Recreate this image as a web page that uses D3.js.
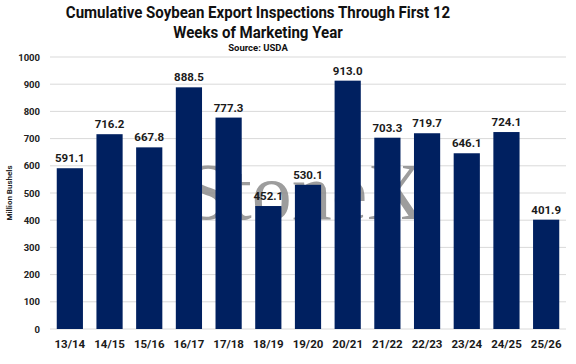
<!DOCTYPE html>
<html><head><meta charset="utf-8">
<script src="https://cdn.jsdelivr.net/npm/d3@7"></script>
<style>body{margin:0;background:#fff}svg{display:block}</style>
</head><body><svg id="c" width="576" height="364"></svg>
<script>
const categories = ["13/14","14/15","15/16","16/17","17/18","18/19","19/20","20/21","21/22","22/23","23/24","24/25","25/26"];
const values = [591.1,716.2,667.8,888.5,777.3,452.1,530.1,913.0,703.3,719.7,646.1,724.1,401.9];
const yTicks = [0,100,200,300,400,500,600,700,800,900,1000];
const titleLines = ["Cumulative Soybean Export Inspections Through First 12","Weeks of Marketing Year"];
const subtitle = "Source: USDA";
const yLabel = "Million Bushels";
const watermark = "StoneX";

const svg = d3.select("#c");
const m = {l:50, r:566, t:57, b:329};
const x = d3.scaleBand().domain(categories).range([m.l, m.r]).paddingInner(0.34).paddingOuter(0.17);
const y = d3.scaleLinear().domain([0,1000]).range([m.b, m.t]);

svg.append("rect").attr("width",576).attr("height",364).attr("fill","#fff");

// gridlines
svg.append("g").selectAll("line").data(yTicks).join("line")
  .attr("x1",m.l).attr("x2",m.r).attr("y1",d=>y(d)).attr("y2",d=>y(d))
  .attr("stroke","#d9d9d9").attr("stroke-width",1);

// y axis labels
const ya = svg.append("g").attr("transform",`translate(${m.l-10},0)`)
  .call(d3.axisLeft(y).tickValues(yTicks).tickFormat(d3.format("d")).tickSize(0).tickPadding(0));
ya.select(".domain").remove();
ya.selectAll("text").attr("font-family","Roboto, sans-serif").attr("font-weight","bold")
  .attr("font-size","9.5px").attr("fill","#222");

// watermark
svg.append("text").attr("x",305).attr("y",219).attr("text-anchor","middle")
  .attr("font-family","'Liberation Serif', serif").attr("font-size","80px")
  .attr("fill","#8c8c8c").attr("opacity",0.85).text(watermark);

// bars
svg.append("g").selectAll("rect").data(values).join("rect")
  .attr("x",(d,i)=>x(categories[i])).attr("width",x.bandwidth())
  .attr("y",d=>y(d)).attr("height",d=>y(0)-y(d)).attr("fill","#002060");

// value labels
svg.append("g").selectAll("text").data(values).join("text")
  .attr("x",(d,i)=>x(categories[i])+x.bandwidth()/2).attr("y",d=>y(d)-6)
  .attr("text-anchor","middle").attr("font-family","Roboto, sans-serif").attr("font-weight","bold")
  .attr("font-size","11.5px").attr("fill","#1a1a1a").text(d=>d.toFixed(1));

// x axis labels
const xa = svg.append("g").attr("transform",`translate(0,${m.b})`)
  .call(d3.axisBottom(x).tickSize(0).tickPadding(11));
xa.select(".domain").remove();
xa.selectAll("text").attr("font-family","Roboto, sans-serif").attr("font-weight","bold")
  .attr("font-size","11.5px").attr("fill","#1a1a1a");

// y label
svg.append("text").attr("transform","translate(12,193) rotate(-90)").attr("text-anchor","middle")
  .attr("font-family","Roboto, sans-serif").attr("font-weight","bold").attr("font-size","8px")
  .attr("fill","#222").text(yLabel);

// title
const tl = svg.append("g").selectAll("text").data(titleLines).join("text")
  .attr("x",258).attr("y",(d,i)=>18+i*20).attr("text-anchor","middle")
  .attr("font-family","Roboto, sans-serif").attr("font-weight","bold").attr("font-size","17px")
  .attr("fill","#111").text(d=>d);
tl.each(function(){ const w=this.getComputedTextLength(); d3.select(this).attr("textLength",w*0.885).attr("lengthAdjust","spacingAndGlyphs"); });
svg.append("text").attr("x",258).attr("y",51).attr("text-anchor","middle")
  .attr("font-family","Roboto, sans-serif").attr("font-weight","bold").attr("font-size","9.5px")
  .attr("fill","#111").text(subtitle);
</script></body></html>
